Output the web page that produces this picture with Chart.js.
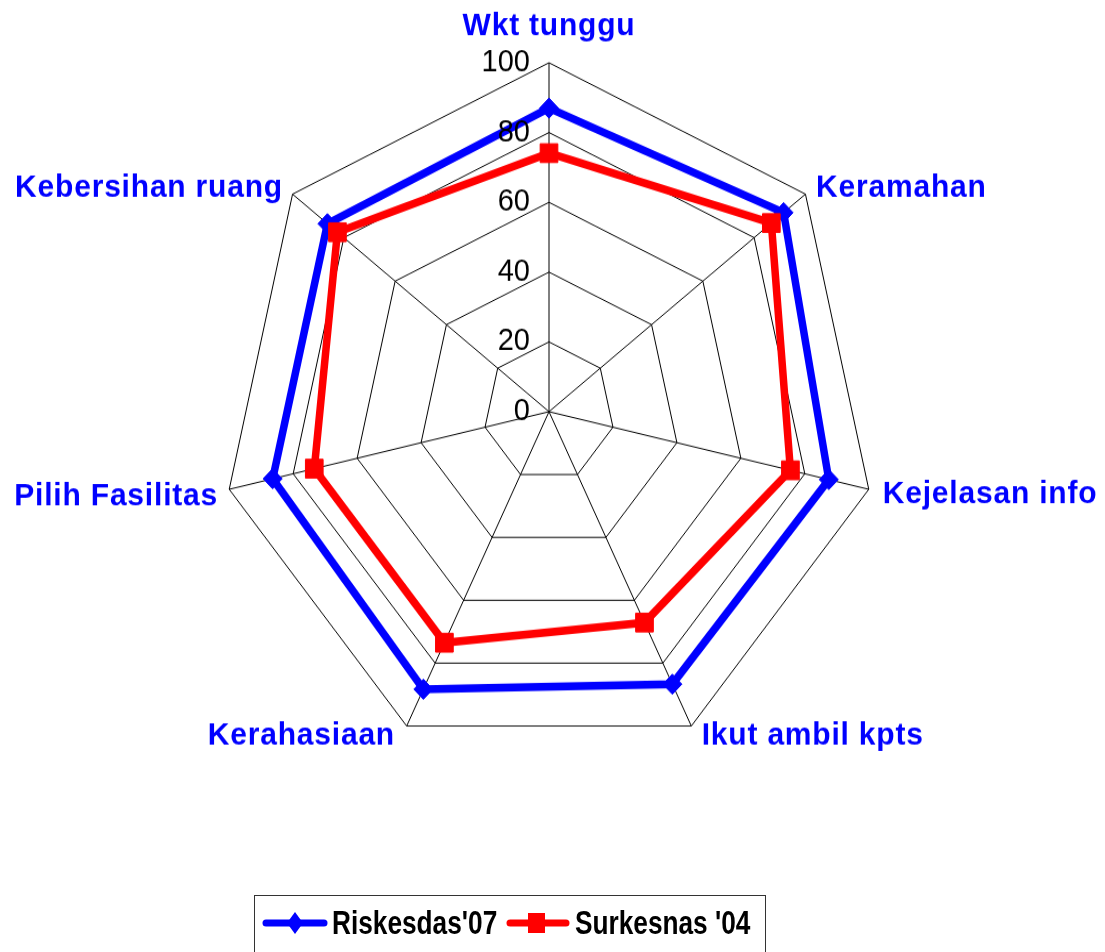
<!DOCTYPE html>
<html lang="id">
<head>
    <meta charset="UTF-8">
    <title>Radar: Riskesdas'07 vs Surkesnas '04</title>
    <script src="https://cdn.jsdelivr.net/npm/chart.js"></script>
    <style>
        html, body { margin: 0; padding: 0; background: #fff; }
        #wrap { position: relative; width: 1105px; height: 952px; overflow: hidden; background: #fff; }
        #radar { position: absolute; left: 0; top: 0; }
        #legendBox { position: absolute; left: 254px; top: 895px; width: 512px; height: 90px;
                     border: 1px solid #333; box-sizing: border-box; }
        #legendMarks { position: absolute; left: 0; top: 0; }
        .legText { position: absolute; top: 906px; font: bold 33px/33px "Liberation Sans", Arial, sans-serif;
                   color: #000; white-space: nowrap; transform: scaleX(0.795); transform-origin: 0 0; }
    </style>
</head>
<body>
<div id="wrap">
    <!-- canvas is drawn a bit flatter and stretched vertically, like the Excel original -->
    <canvas id="radar" width="1105" height="895" style="width:1105px;height:952px"></canvas>

    <!-- Legenda -->
    <div id="legendBox"></div>
    <svg id="legendMarks" width="1105" height="952">
        <line x1="266" y1="923" x2="324" y2="923" stroke="#0000FF" stroke-width="7" stroke-linecap="round"/>
        <polygon points="295,912 303,923 295,934 287,923" fill="#0000FF"/>
        <line x1="510" y1="923" x2="566" y2="923" stroke="#FF0000" stroke-width="7" stroke-linecap="round"/>
        <rect x="528" y="913" width="17" height="20" fill="#FF0000"/>
    </svg>
    <div class="legText" style="left:332px">Riskesdas'07</div>
    <div class="legText" style="left:575px">Surkesnas '04</div>
</div>

<script>
    // Data
    const labels = ['Wkt tunggu', 'Keramahan', 'Kejelasan info', 'Ikut ambil kpts',
                    'Kerahasiaan', 'Pilih Fasilitas', 'Kebersihan ruang'];
    const riskesdas07 = [87, 91.5, 87.5, 86.7, 88.3, 86.4, 86.4];
    const surkesnas04 = [74.1, 86.7, 75.5, 67.1, 73.5, 73.4, 82.5];
    const tickValues = [0, 20, 40, 60, 80, 100];

    // label offsets from the outer vertex: [dx, dy, align]
    const labelPlace = [
        [0, -26, 'center'], [10.6, 2.4, 'left'], [14, 12.6, 'left'], [10.4, 17.2, 'left'],
        [-11.7, 17.9, 'right'], [-11.2, 14.8, 'right'], [-9.6, 3, 'right']
    ];

    // axis labels + tick numbers drawn by hand (Chart.js skips the "0" tick)
    const radarText = {
        id: 'radarText',
        afterDatasetsDraw(chart) {
            const r = chart.scales.r;
            const ctx = chart.ctx;
            ctx.save();
            ctx.font = 'bold 30px "Liberation Sans", Arial, sans-serif';
            ctx.fillStyle = '#0000FF';
            ctx.textBaseline = 'alphabetic';
            if ('letterSpacing' in ctx) ctx.letterSpacing = '0.8px';
            labels.forEach((txt, i) => {
                const p = r.getPointPosition(i, r.getDistanceFromCenterForValue(100));
                const [dx, dy, align] = labelPlace[i];
                ctx.textAlign = align;
                ctx.fillText(txt, p.x + dx, p.y + dy);
            });
            if ('letterSpacing' in ctx) ctx.letterSpacing = '0px';
            ctx.font = '29px "Liberation Sans", Arial, sans-serif';
            ctx.fillStyle = '#000';
            ctx.textAlign = 'right';
            ctx.textBaseline = 'middle';
            tickValues.forEach(v => {
                ctx.fillText(String(v), r.xCenter - 19, r.yCenter - r.getDistanceFromCenterForValue(v));
            });
            ctx.restore();
        }
    };

    new Chart(document.getElementById('radar'), {
        type: 'radar',
        data: {
            labels: labels,
            datasets: [
                {
                    label: "Riskesdas'07",
                    data: riskesdas07,
                    borderColor: '#0000FF',
                    backgroundColor: '#0000FF',
                    borderWidth: 7.5,
                    fill: false,
                    pointStyle: 'rectRot',
                    pointRadius: 9.5,
                    pointBorderWidth: 1,
                    pointBackgroundColor: '#0000FF',
                    pointBorderColor: '#0000FF',
                    order: 1
                },
                {
                    label: "Surkesnas '04",
                    data: surkesnas04,
                    borderColor: '#FF0000',
                    backgroundColor: '#FF0000',
                    borderWidth: 7.5,
                    fill: false,
                    pointStyle: 'rect',
                    pointRadius: 12.5,
                    pointBorderWidth: 1,
                    pointBackgroundColor: '#FF0000',
                    pointBorderColor: '#FF0000',
                    order: 0
                }
            ]
        },
        options: {
            responsive: false,
            animation: false,
            layout: { padding: { left: 221, right: 228, top: 59, bottom: 180 } },
            plugins: {
                legend: { display: false },
                tooltip: { enabled: false }
            },
            scales: {
                r: {
                    min: 0,
                    max: 100,
                    ticks: { display: false, stepSize: 20 },
                    grid: { color: '#000', lineWidth: 1, circular: false },
                    angleLines: { color: '#000', lineWidth: 1 },
                    pointLabels: { display: false }
                }
            }
        },
        plugins: [radarText]
    });
</script>
</body>
</html>
